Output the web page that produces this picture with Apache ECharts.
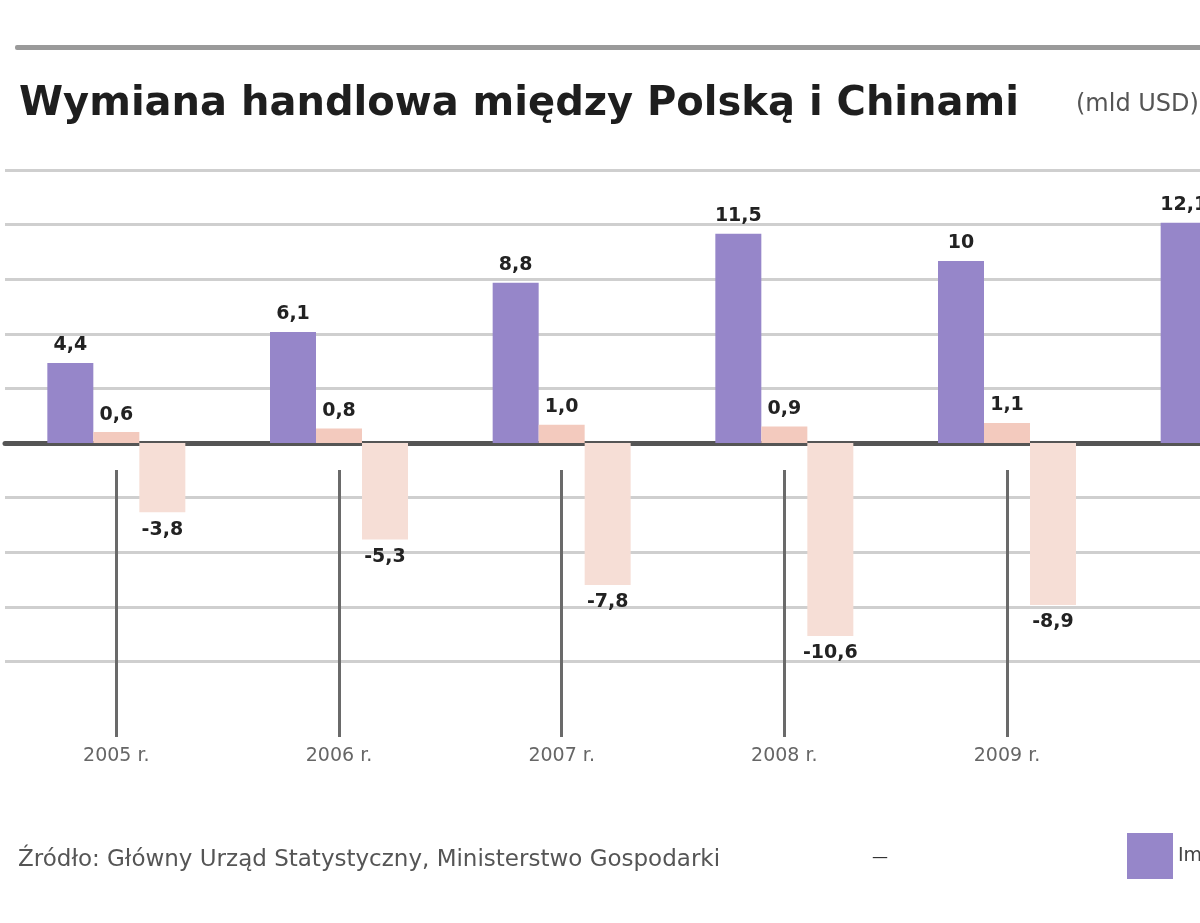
<!DOCTYPE html>
<html>
<head>
<meta charset="utf-8">
<title>Wymiana handlowa</title>
<script src="https://cdn.jsdelivr.net/npm/echarts@6/dist/echarts.min.js"></script>
<style>
    html,body{margin:0;padding:0;background:#fff;}
    #main{width:1200px;height:923px;}
</style>
</head>
<body>
<div id="main"></div>
<script>
// dane (mld USD)
var years = ['2005 r.', '2006 r.', '2007 r.', '2008 r.', '2009 r.', '2010 r.'];
var importVals = [4.4, 6.1, 8.8, 11.5, 10, 12.1];
var exportVals = [0.6, 0.8, 1.0, 0.9, 1.1, null];
var saldoVals = [-3.8, -5.3, -7.8, -10.6, -8.9, null];
var yTicks = [-15, 15, 3];

var GChart1;

// przecinek dziesietny, 10 i wiecej bez miejsca po przecinku
function fmt(p) {
    if (p.value == null) return '';
    var v = p.value;
    var s = Math.abs(v) >= 10 && v % 1 === 0 ? String(v) : v.toFixed(1);
    return s.replace('.', ',');
}

function initChart() {
    GChart1 = echarts.init(document.getElementById('main'));
    var lineColors = [];
    for (var v = yTicks[0]; v <= yTicks[1]; v += yTicks[2]) {
        lineColors.push(v == yTicks[0] ? 'rgba(0,0,0,0)' : '#cfcfcf');
    }
    var labelStyle = {
        show: true,
        formatter: fmt,
        fontFamily: 'DejaVu Sans',
        fontWeight: 'bold',
        fontSize: 19,
        color: '#222',
        distance: 8
    };
    var option = {
        animation: false,
        backgroundColor: '#fff',
        title: {
            text: 'Wymiana handlowa między Polską i Chinami',
            left: 14,
            top: 80,
            textStyle: {
                fontFamily: 'DejaVu Sans',
                fontWeight: 'bold',
                fontSize: 40,
                color: '#1e1e1e'
            }
        },
        graphic: [
            {type: 'rect', shape: {x: 15, y: 45, width: 1200, height: 5, r: 2}, style: {fill: '#9a9a9a'}},
            {type: 'text', left: 1076, top: 93, style: {text: '(mld USD)', fontFamily: 'DejaVu Sans', fontSize: 24, fill: '#555'}},
            {type: 'text', left: 18, top: 849, style: {text: 'Źródło: Główny Urząd Statystyczny, Ministerstwo Gospodarki', fontFamily: 'DejaVu Sans', fontSize: 23, fill: '#555'}},
            {type: 'text', left: 872, top: 850, style: {text: '—', fontFamily: 'DejaVu Sans', fontSize: 16, fill: '#333'}}
        ],
        legend: {
            left: 1122,
            top: 828,
            itemWidth: 46,
            itemHeight: 46,
            itemGap: 20,
            icon: 'rect',
            data: ['Import z Chin'],
            textStyle: {fontFamily: 'DejaVu Sans', fontSize: 19, color: '#444'}
        },
        grid: {
            left: 5,
            width: 1336,
            top: 170,
            bottom: 207,
            containLabel: false,
            outerBoundsMode: 'none'
        },
        xAxis: [
            {
                type: 'category',
                data: years,
                axisLine: {onZero: true, lineStyle: {color: '#555', width: 5}},
                axisTick: {show: false},
                axisLabel: {show: false}
            },
            {
                type: 'category',
                data: years,
                position: 'bottom',
                offset: 21,
                axisLine: {show: false},
                axisTick: {
                    show: true,
                    inside: true,
                    alignWithLabel: true,
                    length: 267,
                    lineStyle: {color: '#6a6a6a', width: 3}
                },
                axisLabel: {
                    margin: 10,
                    showMaxLabel: false,
                    fontFamily: 'DejaVu Sans',
                    fontSize: 19,
                    color: '#666'
                }
            }
        ],
        yAxis: {
            type: 'value',
            min: yTicks[0],
            max: yTicks[1],
            interval: yTicks[2],
            axisLine: {show: false},
            axisTick: {show: false},
            axisLabel: {show: false},
            splitLine: {
                show: true,
                lineStyle: {color: lineColors, width: 3}
            }
        },
        series: [
            {
                name: 'Import z Chin',
                type: 'bar',
                data: importVals,
                barWidth: 46,
                barGap: '0%',
                itemStyle: {color: '#9686c9'},
                label: echarts.util.extend({position: 'top'}, labelStyle)
            },
            {
                name: 'Eksport do Chin',
                type: 'bar',
                data: exportVals,
                barWidth: 46,
                barGap: '0%',
                itemStyle: {color: '#f3cabe'},
                label: echarts.util.extend({position: 'top'}, labelStyle)
            },
            {
                name: 'Saldo',
                type: 'bar',
                data: saldoVals,
                barWidth: 46,
                barGap: '0%',
                itemStyle: {color: '#f6ded6'},
                label: echarts.util.extend({position: 'bottom'}, labelStyle)
            }
        ]
    };
    GChart1.setOption(option);
}

initChart();
</script>
</body>
</html>
